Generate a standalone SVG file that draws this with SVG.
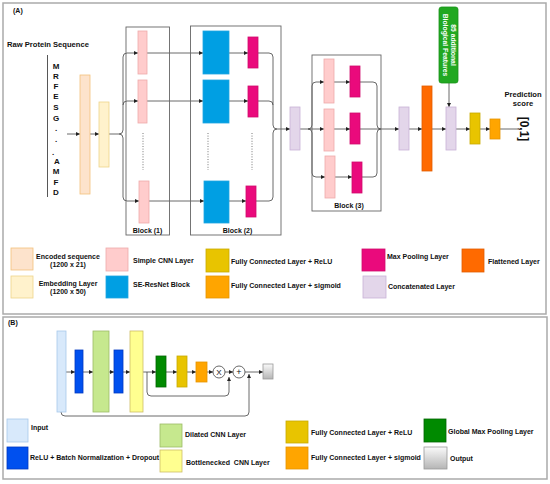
<svg xmlns="http://www.w3.org/2000/svg" width="550" height="484" viewBox="0 0 550 484">
<defs>
<marker id="ah" viewBox="0 0 6 6" refX="6" refY="3" markerWidth="4" markerHeight="4" orient="auto" markerUnits="userSpaceOnUse"><path d="M0,0 L6,3 L0,6 z" fill="#222"/></marker>
<linearGradient id="gout" x1="0" y1="0" x2="0" y2="1"><stop offset="0" stop-color="#fafafa"/><stop offset="1" stop-color="#b5b5b5"/></linearGradient>
<style>
text{font-family:"Liberation Sans",Arial,sans-serif;font-weight:bold;fill:#111}
.lg{font-size:7px}
.frame{fill:#fff;stroke:#aaa;stroke-width:1.5}
.blk{fill:none;stroke:#666;stroke-width:0.9}
.c{fill:none;stroke:#444;stroke-width:0.8}
.ca{fill:none;stroke:#444;stroke-width:0.8;marker-end:url(#ah)}
.dot{fill:none;stroke:#555;stroke-width:0.8;stroke-dasharray:1 1.6}
.enc{fill:#fde3cc;stroke:#f2c07c;stroke-width:0.8}
.emb{fill:#fff2cc;stroke:#eed48a;stroke-width:0.8}
.cnn{fill:#ffcccc;stroke:#eeaaaa;stroke-width:0.8}
.se{fill:#009fe3;stroke:#1fa5e0;stroke-width:0.8}
.mp{fill:#ea0a7c;stroke:#d00a6c;stroke-width:0.8}
.cat{fill:#e3d6ea;stroke:#c8b2d6;stroke-width:0.8}
.fl{fill:#ff6a00;stroke:#e25d00;stroke-width:0.8}
.fcr{fill:#e8c400;stroke:#c9aa00;stroke-width:0.8}
.fcs{fill:#ffa500;stroke:#e59400;stroke-width:0.8}
.inp{fill:#d8e9fb;stroke:#a8c9ea;stroke-width:0.8}
.rbd{fill:#0050ef;stroke:#0038c0;stroke-width:0.8}
.dil{fill:#c6e88e;stroke:#9cbb66;stroke-width:0.8}
.bot{fill:#ffff90;stroke:#cdbd66;stroke-width:0.8}
.gmp{fill:#008a00;stroke:#006400;stroke-width:0.8}
.out{fill:url(#gout);stroke:#999;stroke-width:0.8}
.op{fill:#fff;stroke:#444;stroke-width:0.8}
</style>
</defs>

<rect class="frame" x="3" y="3" width="543" height="311"/>
<rect class="frame" x="3" y="317" width="544" height="162"/>

<g id="panelA-labels">
<text x="13" y="13" style="font-size:7px">(A)</text>
<text x="7" y="47" style="font-size:7.6px">Raw Protein Sequence</text>
<line x1="47.5" y1="55" x2="47.5" y2="197" stroke="#444" stroke-width="0.9"/>
<g style="font-size:8px" text-anchor="middle">
<text x="56" y="68.5">M</text><text x="56" y="78.5">R</text><text x="56" y="88.5">F</text><text x="56" y="99">E</text><text x="56" y="110">S</text><text x="56" y="120.5">G</text>
<text x="56" y="131">.</text><text x="56" y="142">.</text><text x="53" y="155">.</text>
<text x="57" y="164">A</text><text x="56" y="174">M</text><text x="56" y="184.5">F</text><text x="56" y="195">D</text>
</g>
</g>

<g id="connectors">
<path class="ca" d="M67,134 H80"/>
<path class="ca" d="M90,134 H99"/>
<path class="ca" d="M109,134 H119 Q123,134 123,130 V57 Q123,53 127,53 H138"/>
<path class="ca" d="M123,105 Q123,101 127,101 H138"/>
<path class="ca" d="M119,134 Q123,134 123,138 V197 Q123,201 127,201 H139"/>
<path class="ca" d="M147,53 H203"/>
<path class="ca" d="M147,101 H203"/>
<path class="ca" d="M149,201 H204"/>
<path class="ca" d="M229,53 H248"/>
<path class="ca" d="M229,101 H248"/>
<path class="ca" d="M229,201 H246"/>
<path class="c" d="M258,53 H269 Q273,53 273,57 V125 Q273,129 277,129"/>
<path class="c" d="M258,101 H269 Q273,101 273,105"/>
<path class="c" d="M256,201 H269 Q273,201 273,197 V133 Q273,129 277,129"/>
<path class="ca" d="M277,129 H290"/>
<path class="ca" d="M300,129 H308 Q312,129 312,125 V86 Q312,82 316,82 H324"/>
<path class="ca" d="M308,129 H324"/>
<path class="ca" d="M308,129 Q312,129 312,133 V173 Q312,177 316,177 H325"/>
<path class="ca" d="M334,82 H350"/>
<path class="ca" d="M334,129 H350"/>
<path class="ca" d="M335,177 H352"/>
<path class="c" d="M360,82 H373 Q377,82 377,86 V125 Q377,129 381,129"/>
<path class="c" d="M360,129 H381"/>
<path class="c" d="M362,177 H373 Q377,177 377,173 V133 Q377,129 381,129"/>
<path class="ca" d="M381,129 H399"/>
<path class="ca" d="M409,129 H422"/>
<path class="ca" d="M432,129 H446"/>
<path class="ca" d="M456,129 H470"/>
<path class="ca" d="M480,129 H490"/>
<path class="c" d="M500,129 H518"/>
<path class="ca" d="M449,83 V107"/>
<path class="dot" d="M143,133 V170 M208,133 V170 M252,133 V170"/>

<path class="ca" d="M66,372 H75"/>
<path class="ca" d="M83,372 H93"/>
<path class="ca" d="M109,372 H114"/>
<path class="ca" d="M123,372 H130"/>
<path class="ca" d="M143,372 H156"/>
<path class="ca" d="M166,372 H177"/>
<path class="ca" d="M187,372 H196"/>
<path class="ca" d="M207,372 H213"/>
<path class="ca" d="M225,372 H233"/>
<path class="ca" d="M245,372 H263"/>
<path class="ca" d="M147,372 V392 Q147,396 151,396 H225 Q229,396 229,392 V377"/>
<path class="ca" d="M61,412 Q61,416 65,416 H245 Q249,416 249,412 V374"/>
</g>

<g id="encoded"><rect class="enc" x="80" y="75" width="10" height="119"/></g>
<g id="embedding"><rect class="emb" x="99" y="102" width="10" height="65"/></g>

<g id="block1">
<rect class="blk" x="126" y="27" width="43.5" height="208"/>
<rect class="cnn" x="138" y="31" width="9" height="43"/>
<rect class="cnn" x="138" y="80" width="9" height="43"/>
<rect class="cnn" x="139" y="181" width="10" height="42"/>
<text x="147.5" y="233" class="lg" text-anchor="middle">Block (1)</text>
</g>

<g id="block2">
<rect class="blk" x="190.5" y="26" width="90.5" height="209"/>
<rect class="se" x="203" y="31" width="26" height="43"/>
<rect class="se" x="203" y="80" width="26" height="43"/>
<rect class="se" x="204" y="181" width="25" height="42"/>
<rect class="mp" x="248" y="37" width="10" height="31"/>
<rect class="mp" x="248" y="86" width="10" height="31"/>
<rect class="mp" x="246" y="186" width="10" height="31"/>
<text x="237.5" y="233" class="lg" text-anchor="middle">Block (2)</text>
</g>

<g id="concat1"><rect class="cat" x="290" y="107" width="10" height="43"/></g>

<g id="block3">
<rect class="blk" x="312" y="55" width="69" height="156"/>
<rect class="cnn" x="324" y="59" width="10" height="44"/>
<rect class="cnn" x="324" y="109" width="10" height="42"/>
<rect class="cnn" x="325" y="156" width="10" height="42"/>
<rect class="mp" x="350" y="66" width="10" height="31"/>
<rect class="mp" x="350" y="113" width="10" height="31"/>
<rect class="mp" x="352" y="162" width="10" height="31"/>
<text x="349" y="208" class="lg" text-anchor="middle">Block (3)</text>
</g>

<g id="concat2"><rect class="cat" x="399" y="107" width="10" height="43"/></g>
<g id="flattened"><rect class="fl" x="422" y="86" width="10" height="85"/></g>
<g id="bio">
<rect x="439" y="7" width="19" height="76" rx="2.5" fill="#21a821" stroke="#1b921b" stroke-width="0.8"/>
<text transform="translate(450.5,45) rotate(90)" text-anchor="middle" style="font-size:6.8px;fill:#fff">85 additional</text>
<text transform="translate(443,45) rotate(90)" text-anchor="middle" style="font-size:6.8px;fill:#fff">Biological Features</text>
</g>
<g id="concat3"><rect class="cat" x="446" y="107" width="10" height="43"/></g>
<g id="fcrelu"><rect class="fcr" x="470" y="113" width="10" height="31"/></g>
<g id="fcsig"><rect class="fcs" x="490" y="119" width="10" height="20"/></g>
<g id="prediction">
<text x="523" y="97" text-anchor="middle" style="font-size:7.6px">Prediction</text>
<text x="523" y="106" text-anchor="middle" style="font-size:7.6px">score</text>
<text transform="translate(520,129) rotate(90)" text-anchor="middle" style="font-size:12px">[0,1]</text>
</g>

<g id="legendA" class="lg">
<rect class="enc" x="11" y="248" width="22" height="22"/>
<text x="68" y="258.5" text-anchor="middle">Encoded sequence</text>
<text x="68" y="267" text-anchor="middle">(1200 x 21)</text>
<rect class="emb" x="11" y="276" width="22" height="22"/>
<text x="68" y="285.5" text-anchor="middle">Embedding Layer</text>
<text x="68" y="294" text-anchor="middle">(1200 x 50)</text>
<rect class="cnn" x="106" y="248" width="22" height="23"/>
<text x="133" y="263">Simple CNN Layer</text>
<rect class="se" x="106" y="276" width="22" height="22"/>
<text x="133" y="287">SE-ResNet Block</text>
<rect class="fcr" x="206" y="249" width="23" height="23"/>
<text x="231" y="263.5">Fully Connected Layer + ReLU</text>
<rect class="fcs" x="206" y="276" width="23" height="22"/>
<text x="231" y="288">Fully Connected Layer + sigmoid</text>
<rect class="mp" x="362" y="249" width="23" height="22"/>
<text x="387" y="258.5">Max Pooling Layer</text>
<rect class="cat" x="363" y="276" width="23" height="22"/>
<text x="388" y="289">Concatenated Layer</text>
<rect class="fl" x="462" y="249" width="22" height="23"/>
<text x="488" y="263.5">Flattened Layer</text>
</g>

<g id="panelB">
<text x="8" y="325" style="font-size:7px">(B)</text>
<g id="b-input"><rect class="inp" x="57" y="331" width="9" height="81"/></g>
<g id="b-relu1"><rect class="rbd" x="75" y="350" width="8" height="43"/></g>
<g id="b-dilated"><rect class="dil" x="93" y="331" width="16" height="81"/></g>
<g id="b-relu2"><rect class="rbd" x="114" y="350" width="9" height="43"/></g>
<g id="b-bottleneck"><rect class="bot" x="130" y="331" width="13" height="81"/></g>
<g id="b-gmp"><rect class="gmp" x="156" y="356" width="10" height="31"/></g>
<g id="b-fcrelu"><rect class="fcr" x="177" y="356" width="10" height="31"/></g>
<g id="b-fcsig"><rect class="fcs" x="196" y="362" width="11" height="20"/></g>
<g id="b-mul"><circle class="op" cx="219" cy="372" r="6"/><text x="219" y="375" text-anchor="middle" style="font-size:8px;font-weight:normal">X</text></g>
<g id="b-add"><circle class="op" cx="239" cy="372" r="6"/><text x="239" y="375" text-anchor="middle" style="font-size:9px;font-weight:normal">+</text></g>
<g id="b-output"><rect class="out" x="263" y="364" width="10" height="15"/></g>
</g>

<g id="legendB" class="lg">
<rect class="inp" x="7" y="419" width="21" height="23"/>
<text x="31" y="430">Input</text>
<rect class="rbd" x="7" y="447" width="21" height="22"/>
<text x="30" y="460">ReLU + Batch Normalization + Dropout</text>
<rect class="dil" x="160" y="424" width="22" height="23"/>
<text x="185" y="436.5">Dilated CNN Layer</text>
<rect class="bot" x="160" y="450" width="22" height="22"/>
<text x="186" y="464.5" xml:space="preserve">Bottlenecked  CNN Layer</text>
<rect class="fcr" x="286" y="421" width="22" height="22"/>
<text x="311" y="434.5">Fully Connected Layer + ReLU</text>
<rect class="fcs" x="286" y="447" width="22" height="22"/>
<text x="311" y="460">Fully Connected Layer + sigmoid</text>
<rect class="gmp" x="424" y="419" width="22" height="23"/>
<text x="448" y="433.5">Global Max Pooling Layer</text>
<rect class="out" x="424" y="447" width="23" height="22"/>
<text x="450" y="461">Output</text>
</g>
</svg>
